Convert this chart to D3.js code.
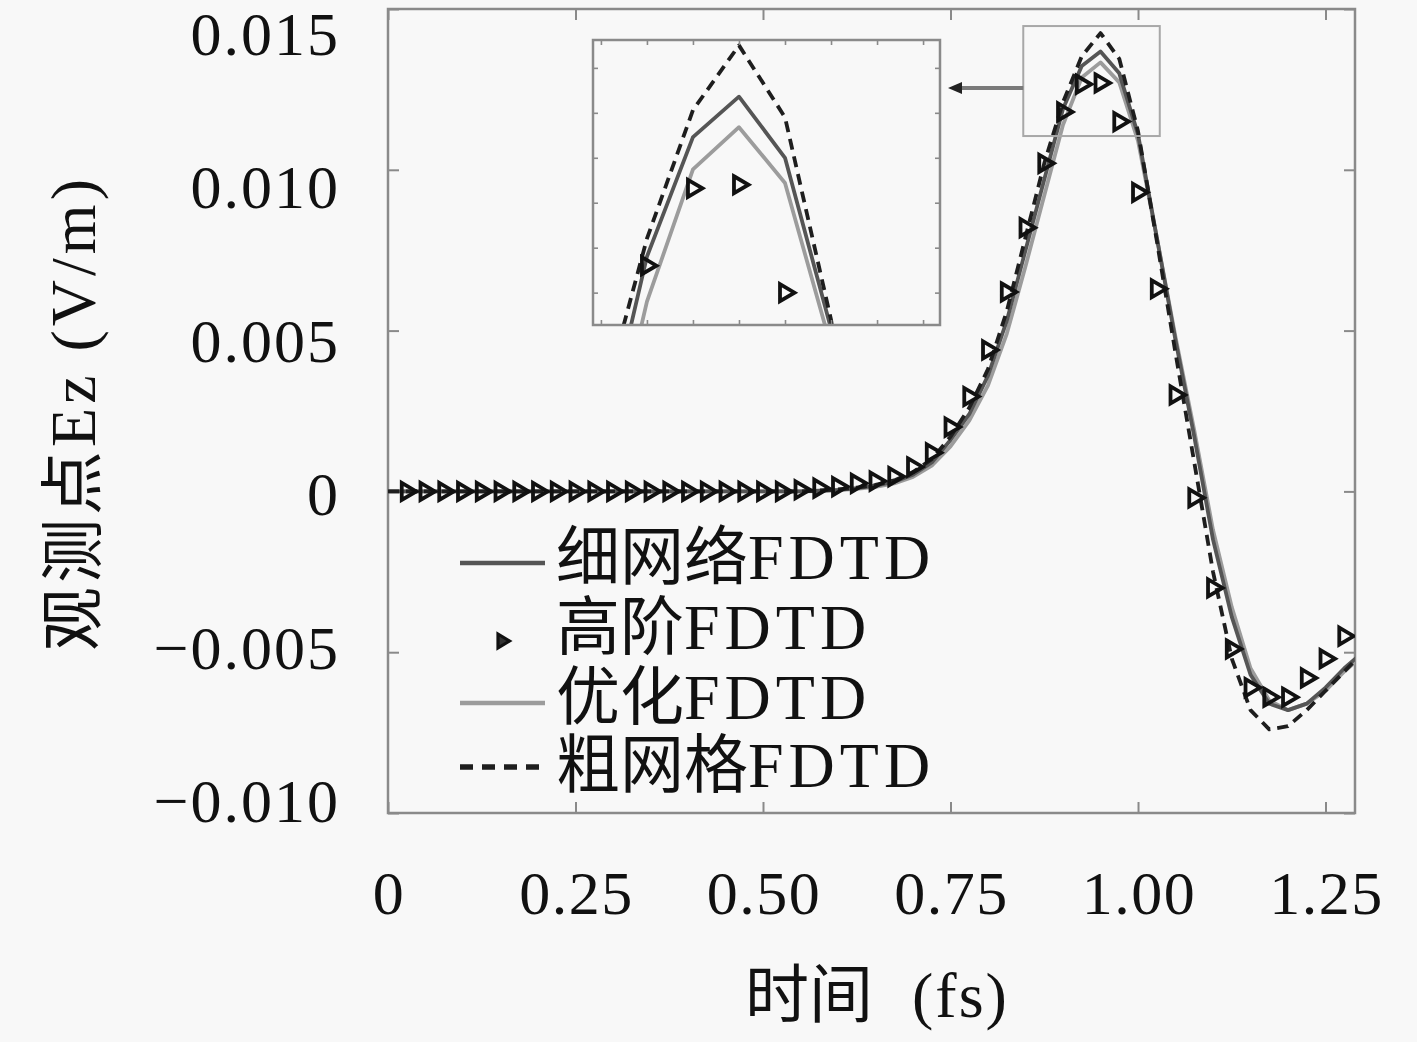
<!DOCTYPE html>
<html><head><meta charset="utf-8">
<script src="https://cdn.jsdelivr.net/npm/d3@7"></script>
<style>
html,body{margin:0;padding:0;background:#f8f8f8;}
svg{display:block;}
text{font-family:"Liberation Serif","DejaVu Serif","Noto Sans CJK SC",serif;fill:#111;}
</style></head><body>
<svg id="chart" width="1417" height="1042"></svg>
<script>
// ---------------- data ----------------
const timeGrid = [0,0.025,0.05,0.075,0.1,0.125,0.15,0.175,0.2,0.225,0.25,0.275,0.3,0.325,0.35,0.375,0.4,0.425,0.45,0.475,0.5,0.525,0.55,
  0.575,0.6,0.625,0.65,0.675,0.7,0.725,0.75,0.775,0.8,0.825,0.85,0.875,0.9,0.925,0.95,0.975,1.0,1.025,1.05,1.075,1.1,1.125,1.15,1.175,1.2,1.225,1.25,1.275,1.3];

const fineMesh = [0,0,0,0,0,0,0,0,0,0,0,0,0,0,0,0,0,0,0,0,0,0,0,
  0.00002,0.00005,0.0001,0.00018,0.0003,0.00052,0.0009,0.0016,0.0024,0.0036,0.0053,0.0075,0.0097,0.0119,0.01323,0.01368,0.0130,0.0111,0.0079,0.0047,0.0017,-0.0015,-0.0039,-0.0057,-0.0066,-0.0068,-0.0066,-0.0061,-0.0055,-0.0050];

const optimized = [0,0,0,0,0,0,0,0,0,0,0,0,0,0,0,0,0,0,0,0,0,0,0,
  0.00001,0.00004,0.00008,0.00014,0.00025,0.00045,0.0008,0.0014,0.0022,0.0033,0.0049,0.0070,0.0092,0.0114,0.01287,0.01334,0.01272,0.0109,0.0079,0.0048,0.0019,-0.0012,-0.0036,-0.0055,-0.0065,-0.0068,-0.0066,-0.0062,-0.0056,-0.0051];

const coarseMesh = [0,0,0,0,0,0,0,0,0,0,0,0,0,0,0,0,0,0,0,0,0,0,0,
  0.00003,0.00006,0.00012,0.0002,0.00034,0.0006,0.0010,0.0017,0.0026,0.0038,0.0056,0.0079,0.0102,0.0121,0.01353,0.01425,0.01345,0.0112,0.0078,0.0043,0.0009,-0.0025,-0.0052,-0.0068,-0.0074,-0.0073,-0.0068,-0.0062,-0.0056,-0.0050];

const highOrderTimes = [0.025,0.05,0.075,0.1,0.125,0.15,0.175,0.2,0.225,0.25,0.275,0.3,0.325,0.35,0.375,0.4,0.425,0.45,0.475,0.5,0.525,
  0.55,0.575,0.6,0.625,0.65,0.675,0.7,0.725,0.75,0.775,0.8,0.825,0.85,0.875,0.9,0.925,0.95,0.975,1.0,1.025,1.05,1.075,1.1,1.125,1.15,1.175,1.2,1.225,1.25,1.275];
const highOrder = [0,0,0,0,0,0,0,0,0,0,0,0,0,0,0,0,0,0,0,0,0,
  0.00005,0.0001,0.00015,0.00025,0.00032,0.00046,0.00076,0.0012,0.0020,0.00295,0.0044,0.0062,0.0082,0.0102,0.0118,0.01266,0.0127,0.0115,0.0093,0.0063,0.0030,-0.0002,-0.0030,-0.0049,-0.0061,-0.0064,-0.0064,-0.0058,-0.0052,-0.0045];

const xTicks = [0,0.25,0.5,0.75,1.0,1.25];
const xTickLabels = ["0","0.25","0.50","0.75","1.00","1.25"];
const yTicks = [-0.010,-0.005,0,0.005,0.010,0.015];
const yTickLabels = ["\u22120.010","\u22120.005","0","0.005","0.010","0.015"];

const insetXDomain = [0.8707,1.0592];
const insetYDomain = [0.01114,0.01431];
const insetXTicks = [0.875,0.9,0.925,0.95,0.975,1.0,1.025,1.05];
const insetYTicks = [0.0115,0.012,0.0125,0.013,0.0135,0.014];
const zoomBoxT = [0.847,1.029];
const zoomBoxV = [0.01105,0.01447];

const legendNames = ["细网络","高阶","优化","粗网格"];
const legendSuffix = "FDTD";
const xTitle = ["时间","(fs)"];
const yTitle = "观测点Ez (V/m)";

// ---------------- drawing ----------------
const svg = d3.select('#chart');
svg.append('rect').attr('width',1417).attr('height',1042).attr('fill','#f8f8f8');

const M = {left:388,right:1355,top:9,bottom:813};
const x = d3.scaleLinear().domain([0,1.2893]).range([M.left,M.right]);
const y = d3.scaleLinear().domain([-0.010,0.015]).range([M.bottom,M.top]);
const yLabelPos = d3.scaleLinear().domain([-0.010,0.015]).range([801,34]);

const frameColor = '#8a8a8a';
const styles = {
  fine:{stroke:'#555555',width:3.8,dash:null},
  opt:{stroke:'#9c9c9c',width:3.8,dash:null},
  coarse:{stroke:'#1e1e1e',width:3.8,dash:'11,7'}
};

svg.append('defs').append('clipPath').attr('id','mainClip')
  .append('rect').attr('x',M.left).attr('y',M.top).attr('width',M.right-M.left).attr('height',M.bottom-M.top);

// ticks (inward)
function styleAxis(g){ g.select('.domain').remove(); g.selectAll('line').attr('stroke',frameColor).attr('stroke-width',2); }
svg.append('g').attr('transform',`translate(0,${M.bottom})`).call(d3.axisBottom(x).tickValues(xTicks).tickSize(-11).tickFormat('')).call(styleAxis);
svg.append('g').attr('transform',`translate(0,${M.top})`).call(d3.axisTop(x).tickValues(xTicks).tickSize(-11).tickFormat('')).call(styleAxis);
svg.append('g').attr('transform',`translate(${M.left},0)`).call(d3.axisLeft(y).tickValues(yTicks).tickSize(-11).tickFormat('')).call(styleAxis);
svg.append('g').attr('transform',`translate(${M.right},0)`).call(d3.axisRight(y).tickValues(yTicks).tickSize(-11).tickFormat('')).call(styleAxis);

svg.append('rect').attr('x',M.left).attr('y',M.top).attr('width',M.right-M.left).attr('height',M.bottom-M.top)
  .attr('fill','none').attr('stroke',frameColor).attr('stroke-width',2.5);

// tick labels
svg.append('g').selectAll('text').data(xTicks).join('text')
  .attr('x',d=>x(d)+1).attr('y',893).attr('text-anchor','middle').attr('dominant-baseline','central')
  .attr('font-size',62).attr('letter-spacing',1.5).text((d,i)=>xTickLabels[i]);
svg.append('g').selectAll('text').data(yTicks).join('text')
  .attr('x',340).attr('y',d=>yLabelPos(d)).attr('text-anchor','end').attr('dominant-baseline','central')
  .attr('font-size',62).attr('letter-spacing',2).text((d,i)=>yTickLabels[i]);

// axis titles
svg.append('text').attr('x',745).attr('y',995).attr('dominant-baseline','central').attr('font-size',64).text(xTitle[0]);
svg.append('text').attr('x',912).attr('y',995).attr('dominant-baseline','central').attr('font-size',64).attr('letter-spacing',2).text(xTitle[1]);
svg.append('text').attr('transform','translate(73,413) rotate(-90)').attr('text-anchor','middle')
  .attr('dominant-baseline','central').attr('font-size',64).attr('letter-spacing',4).text(yTitle);

// series
const triPath = 'M-5,-8.5 L9.5,0 L-5,8.5 Z';
function drawSeries(g, xs, ys){
  const mk = (vals)=> timeGrid.map((t,i)=>[t,vals[i]]);
  const line = d3.line().x(d=>xs(d[0])).y(d=>ys(d[1]));
  [['opt',optimized],['fine',fineMesh],['coarse',coarseMesh]].forEach(([k,vals])=>{
    const s = styles[k];
    g.append('path').datum(mk(vals)).attr('d',line).attr('fill','none')
      .attr('stroke',s.stroke).attr('stroke-width',s.width).attr('stroke-linejoin','round')
      .attr('stroke-dasharray',s.dash);
  });
  g.append('g').selectAll('path').data(highOrderTimes.map((t,i)=>[t,highOrder[i]])).join('path')
    .attr('transform',d=>`translate(${xs(d[0])},${ys(d[1])})`)
    .attr('d',triPath).attr('fill','none').attr('stroke','#111').attr('stroke-width',3.8)
    .attr('stroke-linejoin','miter');
}
const mainG = svg.append('g').attr('clip-path','url(#mainClip)');
drawSeries(mainG, x, y);

// zoom highlight rectangle
svg.append('rect').attr('x',x(zoomBoxT[0])).attr('y',y(zoomBoxV[1]))
  .attr('width',x(zoomBoxT[1])-x(zoomBoxT[0])).attr('height',y(zoomBoxV[0])-y(zoomBoxV[1]))
  .attr('fill','none').attr('stroke','#a8a8a8').attr('stroke-width',2);

// inset
const I = {x:593,y:40,w:347,h:285};
const xi = d3.scaleLinear().domain(insetXDomain).range([0,I.w]);
const yi = d3.scaleLinear().domain(insetYDomain).range([I.h,0]);
const inset = svg.append('g').attr('transform',`translate(${I.x},${I.y})`);
inset.append('rect').attr('width',I.w).attr('height',I.h).attr('fill','#f8f8f8');
svg.select('defs').append('clipPath').attr('id','insetClip').append('rect').attr('width',I.w).attr('height',I.h);
const insetData = inset.append('g').attr('clip-path','url(#insetClip)');
drawSeries(insetData, xi, yi);
function styleInset(g){ g.select('.domain').remove(); g.selectAll('line').attr('stroke',frameColor).attr('stroke-width',1.6); }
inset.append('g').attr('transform',`translate(0,${I.h})`).call(d3.axisBottom(xi).tickValues(insetXTicks).tickSize(-5).tickFormat('')).call(styleInset);
inset.append('g').call(d3.axisTop(xi).tickValues(insetXTicks).tickSize(-5).tickFormat('')).call(styleInset);
inset.append('g').call(d3.axisLeft(yi).tickValues(insetYTicks).tickSize(-5).tickFormat('')).call(styleInset);
inset.append('g').attr('transform',`translate(${I.w},0)`).call(d3.axisRight(yi).tickValues(insetYTicks).tickSize(-5).tickFormat('')).call(styleInset);
inset.append('rect').attr('width',I.w).attr('height',I.h).attr('fill','none').attr('stroke',frameColor).attr('stroke-width',2.5);

// arrow from highlight box to inset
const arrowY = 88;
svg.append('line').attr('x1',x(zoomBoxT[0])).attr('x2',I.x+I.w+18).attr('y1',arrowY).attr('y2',arrowY)
  .attr('stroke','#7a7a7a').attr('stroke-width',4);
svg.append('path').attr('transform',`translate(${I.x+I.w+8},${arrowY})`).attr('d','M0,0 L14,-6 L14,6 Z').attr('fill','#222');

// legend
const legendRows = [557,627,697,765];
const lg = svg.append('g');
legendNames.forEach((name,i)=>{
  const ry = legendRows[i];
  if(i===1){
    lg.append('path').attr('transform',`translate(502,${ry+14})`).attr('d','M-4,-7 L7.5,0 L-4,7 Z')
      .attr('fill','#333').attr('stroke','#111').attr('stroke-width',3.2);
  } else {
    const s = styles[i===0?'fine':(i===2?'opt':'coarse')];
    const sy = ry + (i===3?2:6);
    lg.append('line').attr('x1',460).attr('x2',545).attr('y1',sy).attr('y2',sy)
      .attr('stroke',s.stroke).attr('stroke-width',i===3?5.5:4.4).attr('stroke-dasharray',i===3?'13,9':null);
  }
  const t = lg.append('text').attr('x',556).attr('y',ry).attr('dominant-baseline','central').attr('font-size',64);
  t.append('tspan').text(name);
  t.append('tspan').attr('letter-spacing',5).text(legendSuffix);
});
</script>
</body></html>
